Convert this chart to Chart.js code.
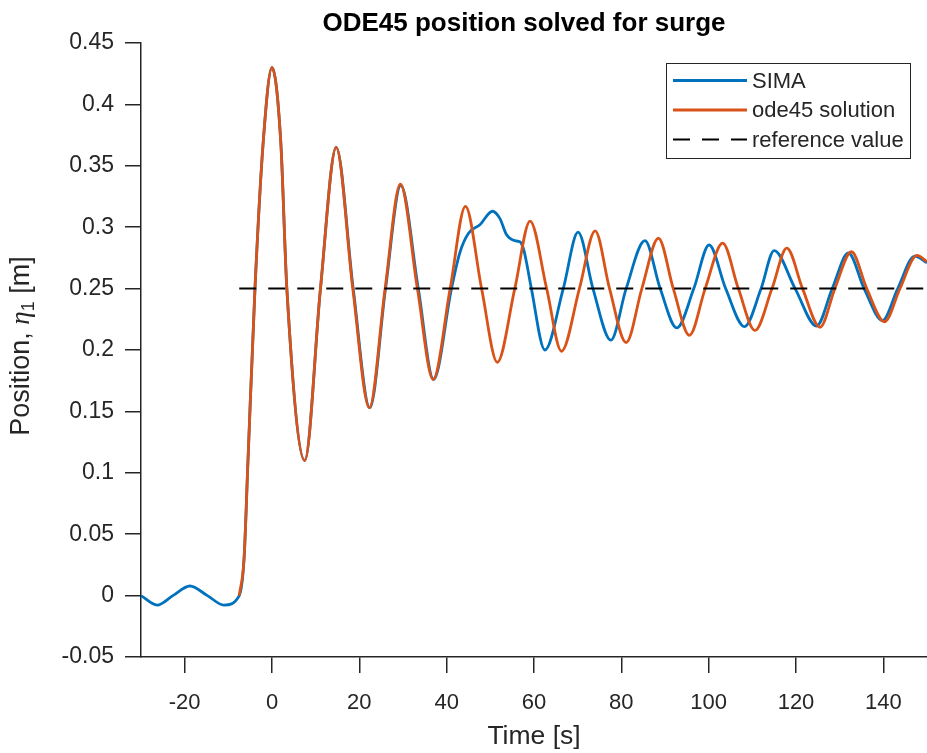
<!DOCTYPE html>
<html lang="en">
<head>
  <meta charset="UTF-8">
  <title>ODE45 position solved for surge</title>
  <script src="https://cdn.jsdelivr.net/npm/chart.js"></script>
  <style>
    body { margin: 0; background: #fff; overflow: hidden; }
    canvas { display: block; }
  </style>
</head>
<body>
  <canvas id="surgeChart" width="927" height="753"></canvas>
  <script>
    // SIMA surge position [m] vs time [s]
    const simaTime = [-30, -26.3, -22.7, -18.8, -14.8, -11.0, -7.5, -6.4, -5.5, -3.9, -2.0, 0, 2.0, 3.4, 7.5, 11.1,
      14.7, 18.6, 22.4, 26.0, 29.5, 33.5, 37.0, 41.1, 43.0, 45.0, 47.6, 50.5, 52.2, 53.7, 55.6, 56.8, 57.7, 58.3,
      59.4, 62.5, 66.7, 70.1, 73.5, 77.6, 81.1, 85.4, 88.9, 92.7, 96.6, 100.1, 103.9, 108.2, 112.0, 115.0, 119.8,
      124.7, 128.3, 132.0, 135.6, 139.8, 143.3, 147.2, 150];
    const simaPos = [0, -0.0077, 0, 0.0078, 0, -0.0077, 0, 0.03, 0.11, 0.25, 0.37, 0.430, 0.37, 0.25, 0.110, 0.25,
      0.365, 0.25, 0.153, 0.25, 0.334, 0.25, 0.176, 0.25, 0.279, 0.295, 0.302, 0.313, 0.307, 0.294, 0.289, 0.288, 0.281, 0.271,
      0.25, 0.200, 0.25, 0.296, 0.25, 0.208, 0.25, 0.289, 0.25, 0.218, 0.25, 0.2855, 0.25, 0.219, 0.25, 0.281, 0.25,
      0.2195, 0.25, 0.279, 0.25, 0.224, 0.25, 0.2765, 0.271];

    // ode45 solution
    const odeTime = [-7.5, -6.4, -5.5, -3.9, -2.0, 0, 2.0, 3.4, 7.5, 11.1, 14.7, 18.5, 22.3, 25.9, 29.4, 33.3, 36.9,
      40.8, 44.3, 48.0, 51.6, 55.6, 59.1, 62.9, 66.3, 70.4, 74.0, 77.3, 81.1, 84.7, 88.5, 91.9, 95.6, 99.2, 103.2,
      106.8, 110.6, 114.5, 117.9, 121.5, 125.5, 128.9, 132.7, 136.2, 140.3, 143.8, 147.7, 150];
    const odePos = [0, 0.03, 0.11, 0.25, 0.37, 0.430, 0.37, 0.25, 0.110, 0.25, 0.365, 0.25, 0.153, 0.25, 0.335, 0.25, 0.176,
      0.25, 0.317, 0.25, 0.190, 0.25, 0.305, 0.25, 0.199, 0.25, 0.297, 0.25, 0.206, 0.25, 0.291, 0.25, 0.212, 0.25, 0.287,
      0.25, 0.216, 0.25, 0.283, 0.25, 0.2185, 0.25, 0.280, 0.25, 0.223, 0.25, 0.277, 0.272];

    // reference level
    const refValue = 0.25;
    const refTime = [-7.5, 150];

    const xTicks = [-20, 0, 20, 40, 60, 80, 100, 120, 140];
    const yTicks = [-0.05, 0, 0.05, 0.1, 0.15, 0.2, 0.25, 0.3, 0.35, 0.4, 0.45];
    const seriesNames = ['SIMA', 'ode45 solution', 'reference value'];
    const chartTitle = 'ODE45 position solved for surge';

    const FONT = '"Liberation Sans", Arial, Helvetica, sans-serif';
    const INK = '#262626';

    const toPoints = (xs, ys) => xs.map((x, i) => ({ x: x, y: ys[i] }));

    // title, y label (with eta_1) and the boxed legend
    const decorations = {
      id: 'decorations',
      afterDraw(chart) {
        const ctx = chart.ctx;
        ctx.save();

        ctx.fillStyle = '#000';
        ctx.font = 'bold 26px ' + FONT;
        ctx.textAlign = 'center';
        ctx.textBaseline = 'alphabetic';
        ctx.fillText(chartTitle, 524, 31);

        // rotated y label: "Position, η1 [m]"
        const parts = [
          { t: 'Position, ', f: '27px ' + FONT, dy: 0 },
          { t: 'η', f: 'italic 27px "Liberation Serif", serif', dy: 0 },
          { t: '1', f: '18px ' + FONT, dy: 7 },
          { t: ' [m]', f: '27px ' + FONT, dy: 0 }
        ];
        let total = 0;
        parts.forEach(p => { ctx.font = p.f; p.w = ctx.measureText(p.t).width; total += p.w; });
        ctx.translate(22, 346);
        ctx.rotate(-Math.PI / 2);
        ctx.fillStyle = INK;
        ctx.textAlign = 'left';
        ctx.textBaseline = 'middle';
        let x = -total / 2;
        parts.forEach(p => { ctx.font = p.f; ctx.fillText(p.t, x, p.dy); x += p.w; });
        ctx.setTransform(1, 0, 0, 1, 0, 0);

        // legend
        ctx.fillStyle = '#fff';
        ctx.fillRect(666.5, 63.5, 244, 95);
        ctx.strokeStyle = INK;
        ctx.lineWidth = 1;
        ctx.strokeRect(666.5, 63.5, 244, 95);
        ctx.font = '22px ' + FONT;
        ctx.textBaseline = 'middle';
        ctx.textAlign = 'left';
        chart.data.datasets.forEach((ds, i) => {
          const y = 80.5 + i * 29.5;
          ctx.beginPath();
          ctx.setLineDash(ds.borderDash || []);
          ctx.strokeStyle = ds.borderColor;
          ctx.lineWidth = ds.borderWidth;
          ctx.moveTo(673, y);
          ctx.lineTo(747, y);
          ctx.stroke();
          ctx.setLineDash([]);
          ctx.fillStyle = INK;
          ctx.fillText(ds.label, 752, y + 1);
        });
        ctx.restore();
      }
    };

    new Chart(document.getElementById('surgeChart'), {
      type: 'line',
      data: {
        datasets: [
          { label: seriesNames[0], data: toPoints(simaTime, simaPos), borderColor: '#0072BD', borderWidth: 2.8, order: 3 },
          { label: seriesNames[1], data: toPoints(odeTime, odePos), borderColor: '#D95319', borderWidth: 2.8, order: 2 },
          { label: seriesNames[2], data: toPoints(refTime, refTime.map(() => refValue)), borderColor: '#000',
            borderWidth: 2, borderDash: [17, 12], cubicInterpolationMode: 'default', tension: 0, order: 1 }
        ]
      },
      options: {
        responsive: false,
        devicePixelRatio: 1,
        animation: false,
        layout: { padding: { top: 43, right: 0, bottom: 0, left: 0 } },
        elements: {
          point: { radius: 0 },
          line: { cubicInterpolationMode: 'monotone', fill: false }
        },
        plugins: { legend: { display: false }, title: { display: false }, tooltip: { enabled: false } },
        scales: {
          x: {
            type: 'linear',
            min: -30,
            max: 150,
            afterBuildTicks: s => { s.ticks = xTicks.map(v => ({ value: v })); },
            afterFit: s => { s.height = 96; },
            grid: { drawOnChartArea: false, drawTicks: true, tickLength: 16, color: INK, lineWidth: 1.5 },
            border: { display: true, color: INK, width: 1.5 },
            ticks: { color: INK, font: { family: FONT, size: 22 }, padding: 17, maxRotation: 0,
              callback: v => String(v) },
            title: { display: true, text: 'Time [s]', color: INK, font: { family: FONT, size: 26.5 },
              padding: { top: 0, bottom: 0 } }
          },
          y: {
            min: -0.05,
            max: 0.45,
            afterBuildTicks: s => { s.ticks = yTicks.map(v => ({ value: v })); },
            afterFit: s => { s.width = 141; },
            grid: { drawOnChartArea: false, drawTicks: true, tickLength: 16, color: INK, lineWidth: 1.5 },
            border: { display: true, color: INK, width: 1.5 },
            ticks: { color: INK, font: { family: FONT, size: 23 }, padding: 11,
              callback: v => String(Number(v.toFixed(2))) }
          }
        }
      },
      plugins: [decorations]
    });
  </script>
</body>
</html>
